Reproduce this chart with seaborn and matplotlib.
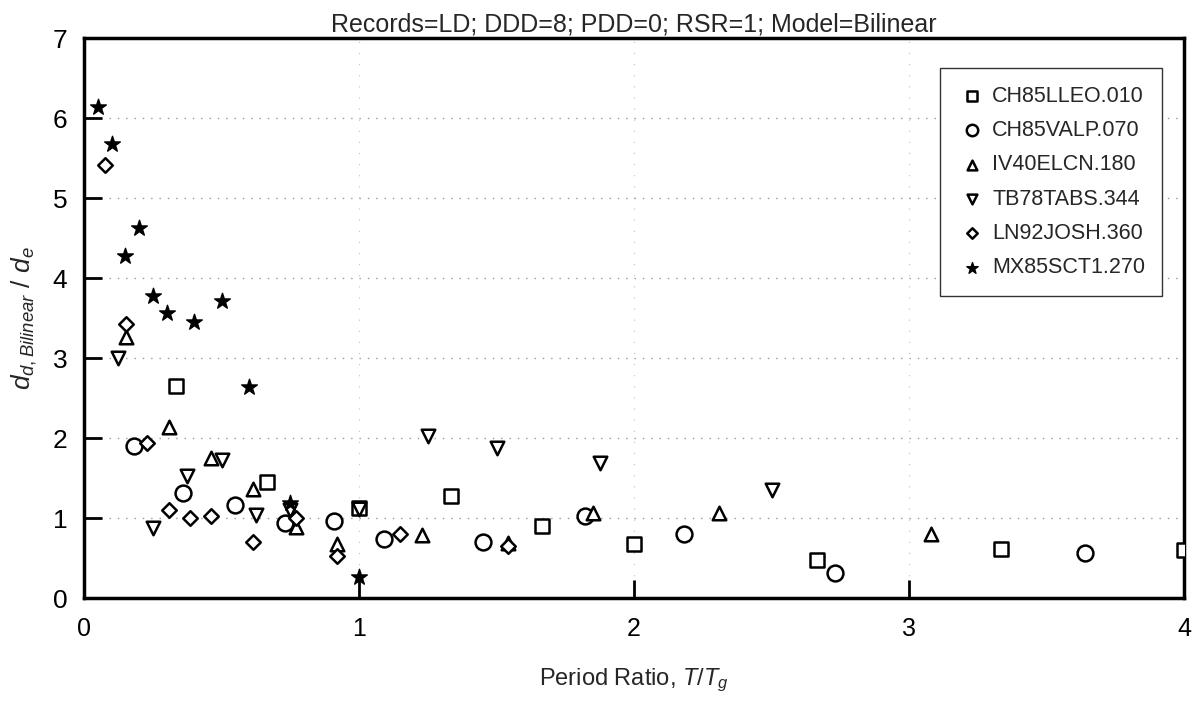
import matplotlib
matplotlib.use("Agg")
import matplotlib.pyplot as plt
import seaborn as sns
import pandas as pd

# ---- data ----
labels = ["CH85LLEO.010", "CH85VALP.070", "IV40ELCN.180",
          "TB78TABS.344", "LN92JOSH.360", "MX85SCT1.270"]

sq_x = [0.333, 0.667, 1.0, 1.333, 1.667, 2.0, 2.667, 3.333, 4.0]
sq_y = [2.65, 1.45, 1.12, 1.27, 0.90, 0.67, 0.47, 0.61, 0.60]

ci_x = [0.18, 0.36, 0.55, 0.73, 0.91, 1.09, 1.45, 1.82, 2.18, 2.73, 3.64]
ci_y = [1.90, 1.31, 1.16, 0.94, 0.96, 0.74, 0.70, 1.02, 0.80, 0.31, 0.56]

tu_x = [0.154, 0.31, 0.46, 0.615, 0.77, 0.92, 1.23, 1.54, 1.85, 2.31, 3.08]
tu_y = [3.26, 2.14, 1.75, 1.36, 0.89, 0.68, 0.79, 0.69, 1.06, 1.06, 0.80]

td_x = [0.125, 0.25, 0.375, 0.5, 0.625, 0.75, 1.0, 1.25, 1.5, 1.875, 2.5]
td_y = [3.00, 0.87, 1.52, 1.72, 1.04, 1.10, 1.11, 2.02, 1.87, 1.69, 1.35]

di_x = [0.077, 0.154, 0.23, 0.31, 0.385, 0.46, 0.615, 0.77, 0.92, 1.15, 1.54]
di_y = [5.41, 3.42, 1.94, 1.10, 1.00, 1.03, 0.70, 1.00, 0.52, 0.80, 0.65]

st_x = [0.05, 0.1, 0.15, 0.2, 0.25, 0.3, 0.4, 0.5, 0.6, 0.75, 1.0]
st_y = [6.14, 5.68, 4.28, 4.63, 3.78, 3.56, 3.45, 3.71, 2.64, 1.19, 0.26]

x_ticks = [0, 1, 2, 3, 4]
y_ticks = [0, 1, 2, 3, 4, 5, 6, 7]

series = [
    (labels[0], sq_x, sq_y),
    (labels[1], ci_x, ci_y),
    (labels[2], tu_x, tu_y),
    (labels[3], td_x, td_y),
    (labels[4], di_x, di_y),
    (labels[5], st_x, st_y),
]

rows = []
for name, xs, ys in series:
    for a, b in zip(xs, ys):
        rows.append({"record": name, "x": a, "y": b})
df = pd.DataFrame(rows)

# ---- styling ----
sns.set_theme(style="white")
plt.rcParams['font.family'] = ['Liberation Sans', 'DejaVu Sans']
plt.rcParams['mathtext.fontset'] = 'custom'
plt.rcParams['mathtext.it'] = 'Liberation Sans:italic'
plt.rcParams['mathtext.rm'] = 'Liberation Sans'

marker_style = {
    labels[0]: dict(marker="s", s=110, facecolor="white", lw=1.8),
    labels[1]: dict(marker="o", s=130, facecolor="white", lw=1.8),
    labels[2]: dict(marker="^", s=95, facecolor="white", lw=1.8),
    labels[3]: dict(marker="v", s=95, facecolor="white", lw=1.8),
    labels[4]: dict(marker="D", s=55, facecolor="white", lw=1.8),
    labels[5]: dict(marker="*", s=140, facecolor="black", lw=1.0),
}

fig = plt.figure(figsize=(11.95, 7.05), dpi=100)
ax = fig.add_axes([84/1195, 1 - 598/705, 1100/1195, 560/705])

for name in labels:
    sub = df[df["record"] == name]
    st = marker_style[name]
    sns.scatterplot(data=sub, x="x", y="y", ax=ax, marker=st["marker"], s=st["s"],
                    facecolor=st["facecolor"], edgecolor="black", linewidth=st["lw"],
                    label=name, zorder=3)

ax.set_xlim(0, 4)
ax.set_ylim(0, 7)
ax.set_xticks(x_ticks)
ax.set_yticks(y_ticks)
ax.set_xticklabels([str(v) for v in x_ticks], fontsize=18)
ax.set_yticklabels([str(v) for v in y_ticks], fontsize=19)
ax.tick_params(axis="both", direction="in", length=13, width=2, pad=14,
               left=True, bottom=True, colors="black")
ax.tick_params(axis="y", pad=12)

ax.grid(True, which="major", axis="y", color="0.6", linestyle=(0, (1, 5)), linewidth=1.0)
ax.grid(True, which="major", axis="x", color="0.75", linestyle=(0, (1, 9)), linewidth=0.8)
ax.set_axisbelow(True)
for sp in ax.spines.values():
    sp.set_linewidth(2.5)
    sp.set_color("black")

ax.set_title("Records=LD; DDD=8; PDD=0; RSR=1; Model=Bilinear", fontsize=18, pad=5)
ax.set_xlabel(r"Period Ratio, $T/T_g$", fontsize=17, labelpad=18)
ax.set_ylabel(r"$d_{d,Bilinear}$ / $d_e$", fontsize=19, labelpad=10)

leg = ax.legend(loc="upper right", bbox_to_anchor=(0.99, 0.965), fontsize=15.5,
                frameon=True, fancybox=False, edgecolor="0.2", framealpha=1,
                markerscale=0.72, labelspacing=0.62, handletextpad=0.3,
                borderpad=0.8, handlelength=1.3)
leg.get_frame().set_linewidth(1.0)

fig.savefig("out.png", dpi=100)
